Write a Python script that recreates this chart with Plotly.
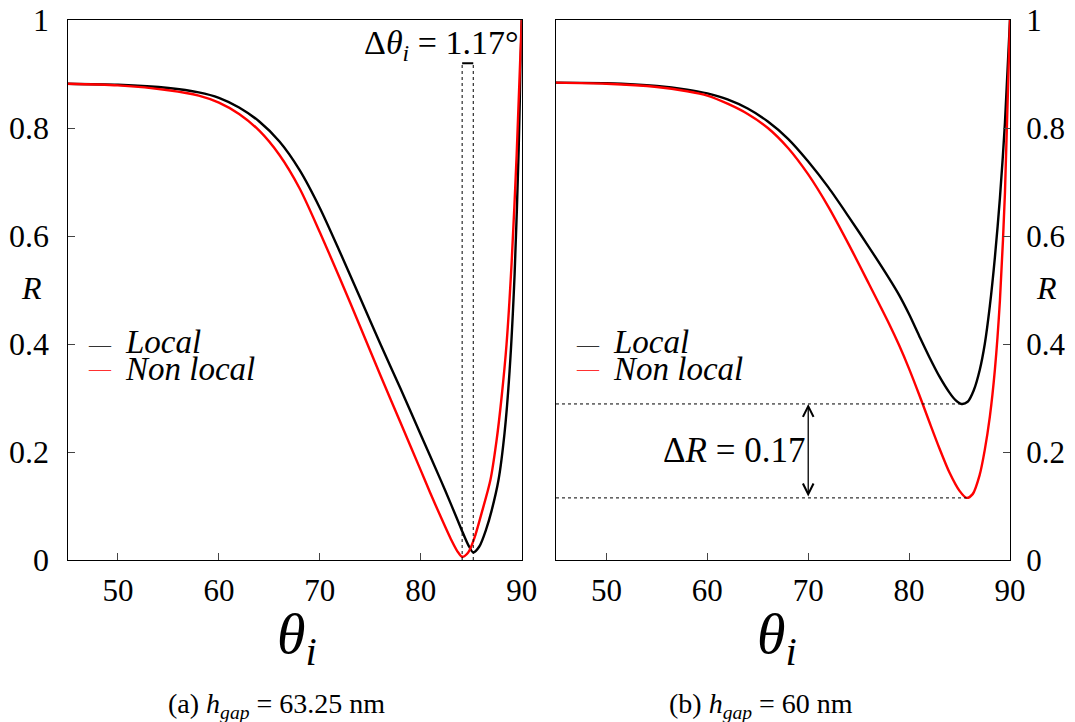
import plotly.graph_objects as go

# ---------------- data ----------------
theta_a_local = [45, 50, 55, 58, 60, 62, 64, 66, 68, 70, 72, 74, 76, 78, 80, 82, 83, 84, 84.7, 85.2, 85.8, 86.5, 87, 87.7, 88.3, 88.8, 89.3, 89.7, 90]
R_a_local     = [0.882, 0.880, 0.874, 0.866, 0.856, 0.838, 0.812, 0.775, 0.722, 0.652, 0.570, 0.485, 0.400, 0.317, 0.232, 0.147, 0.103, 0.058, 0.028, 0.014, 0.025, 0.058, 0.090, 0.148, 0.235, 0.35, 0.53, 0.76, 1.0]

theta_a_nonlocal = [45, 50, 55, 58, 60, 62, 64, 66, 68, 70, 72, 74, 76, 78, 80, 80.9, 82, 83, 83.6, 84.1, 84.7, 85.3, 86, 86.9, 87.5, 88, 88.5, 89, 89.5, 90]
R_a_nonlocal     = [0.882, 0.879, 0.870, 0.860, 0.847, 0.826, 0.795, 0.750, 0.688, 0.607, 0.521, 0.432, 0.342, 0.254, 0.166, 0.126, 0.079, 0.038, 0.017, 0.006, 0.014, 0.040, 0.085, 0.148, 0.22, 0.30, 0.40, 0.55, 0.75, 1.0]

theta_b_local = [45, 50, 55, 58, 60, 62, 64, 66, 68, 70, 72, 74, 76, 78, 79, 80, 81, 82, 83, 84, 84.6, 85.2, 85.8, 86.4, 87, 87.5, 88, 88.5, 89, 89.5, 90]
R_b_local     = [0.884, 0.883, 0.878, 0.871, 0.864, 0.853, 0.836, 0.812, 0.780, 0.738, 0.690, 0.636, 0.580, 0.522, 0.491, 0.455, 0.415, 0.376, 0.340, 0.310, 0.296, 0.289, 0.293, 0.314, 0.352, 0.40, 0.47, 0.56, 0.67, 0.81, 1.0]

theta_b_nonlocal = [45, 50, 55, 58, 60, 62, 64, 66, 68, 70, 72, 74, 76, 78, 79, 80, 81, 82, 83, 84, 85, 85.7, 86.3, 87, 87.5, 88, 88.5, 89, 89.5, 90]
R_b_nonlocal     = [0.884, 0.882, 0.876, 0.868, 0.860, 0.845, 0.826, 0.800, 0.763, 0.714, 0.654, 0.585, 0.512, 0.438, 0.398, 0.354, 0.306, 0.256, 0.207, 0.162, 0.128, 0.115, 0.122, 0.158, 0.204, 0.265, 0.352, 0.48, 0.68, 1.0]

x_ticks = [50, 60, 70, 80, 90]
y_ticks = [0, 0.2, 0.4, 0.6, 0.8, 1]
y_tick_labels = ["0", "0.2", "0.4", "0.6", "0.8", "1"]

delta_theta_text = "Δ<i>θ<sub>i</sub></i> = 1.17°"
delta_R_text = "Δ<i>R</i> = 0.17"
delta_R_theta = 70
caption_a = "(a) <i>h<sub>gap</sub></i> = 63.25 nm"
caption_b = "(b) <i>h<sub>gap</sub></i> = 60 nm"

# ---------------- figure ----------------
SERIF = "Liberation Serif, DejaVu Serif, Times New Roman, serif"
OFF = 8                      # page body margin
W, H = 1075 - OFF, 722 - OFF

def px(x):  # page x -> paper
    return (x - OFF) / W

def py(y):  # page y -> paper
    return 1 - (y - OFF) / H

xa = [px(67.5), px(521.7)]
xb = [px(556), px(1010)]
yd = [py(560), py(20)]

fig = go.Figure()

def curve(x, y, color, xaxis, yaxis, name):
    fig.add_trace(go.Scatter(x=x, y=y, mode="lines", name=name,
                             line=dict(color=color, width=2.4, shape="spline", smoothing=0.8),
                             xaxis=xaxis, yaxis=yaxis, showlegend=False, hoverinfo="skip"))

curve(theta_a_local, R_a_local, "black", "x", "y", "Local")
curve(theta_a_nonlocal, R_a_nonlocal, "red", "x", "y", "Non local")
curve(theta_b_local, R_b_local, "black", "x2", "y2", "Local")
curve(theta_b_nonlocal, R_b_nonlocal, "red", "x2", "y2", "Non local")

axis_common = dict(range=[45, 90], tickvals=x_ticks, ticks="inside", ticklen=7, tickwidth=1,
                   showline=True, linecolor="black", linewidth=1.3, mirror=True, showgrid=False,
                   zeroline=False, tickfont=dict(family=SERIF, size=31, color="black"),
                   ticklabelstandoff=3, automargin=False, ticklabeloverflow="allow")
yaxis_common = dict(range=[0, 1], tickvals=y_ticks, ticktext=y_tick_labels, ticks="inside", ticklen=7,
                    tickwidth=1, showline=True, linecolor="black", linewidth=1.3, mirror=True,
                    showgrid=False, zeroline=False, automargin=False, ticklabeloverflow="allow")

fig.update_layout(
    width=W, height=H, margin=dict(l=0, r=0, t=0, b=0, pad=0, autoexpand=False),
    paper_bgcolor="white", plot_bgcolor="white", showlegend=False,
    xaxis=dict(domain=xa, anchor="y", **axis_common),
    yaxis=dict(domain=yd, anchor="x", side="left", ticklabelstandoff=11,
               tickfont=dict(family=SERIF, size=32, color="black"), **yaxis_common),
    xaxis2=dict(domain=xb, anchor="y2", **axis_common),
    yaxis2=dict(domain=yd, anchor="x2", side="right", ticklabelstandoff=9,
                tickfont=dict(family=SERIF, size=31, color="black"), **yaxis_common),
)

def argmin(xs, ys):
    i = min(range(len(ys)), key=lambda k: ys[k])
    return xs[i], ys[i]

# Δθ marker: dotted verticals at the two minima of panel (a)
th_nl, _ = argmin(theta_a_nonlocal, R_a_nonlocal)
th_l, _ = argmin(theta_a_local, R_a_local)
top = 0.92
for th in (th_nl, th_l):
    fig.add_shape(type="line", xref="x", yref="y", x0=th, x1=th, y0=0, y1=top,
                  line=dict(color="black", width=1, dash="dot"))
fig.add_shape(type="line", xref="x", yref="y", x0=th_nl, x1=th_l, y0=top, y1=top,
              line=dict(color="black", width=2))

# ΔR marker: dotted horizontals at the two minima of panel (b)
thb_l, Rb_l = argmin(theta_b_local, R_b_local)
thb_nl, Rb_nl = argmin(theta_b_nonlocal, R_b_nonlocal)
fig.add_shape(type="line", xref="x2", yref="y2", x0=45, x1=thb_l, y0=Rb_l, y1=Rb_l,
              line=dict(color="black", width=1, dash="dot"))
fig.add_shape(type="line", xref="x2", yref="y2", x0=45, x1=thb_nl, y0=Rb_nl, y1=Rb_nl,
              line=dict(color="black", width=1, dash="dot"))

ann = []
ann.append(dict(x=delta_R_theta, y=Rb_l, xref="x2", yref="y2", ax=delta_R_theta, ay=Rb_nl,
                axref="x2", ayref="y2", showarrow=True, arrowhead=5, startarrowhead=5,
                arrowside="end+start", arrowwidth=1.3, arrowsize=1.6, startarrowsize=1.6,
                arrowcolor="black", text=""))
ann.append(dict(x=delta_R_theta, y=(Rb_l + Rb_nl) / 2, xref="x2", yref="y2", xanchor="right",
                yanchor="middle", xshift=-1, showarrow=False, text=delta_R_text,
                font=dict(family=SERIF, size=35, color="black")))
ann.append(dict(x=(th_nl + th_l) / 2 - 2.6, y=top, xref="x", yref="y", xanchor="center",
                yanchor="bottom", yshift=-5, showarrow=False, text=delta_theta_text,
                font=dict(family=SERIF, size=34, color="black")))

# legends (text + short line samples)
for xr in ("x domain", "x2 domain"):
    ann.append(dict(x=0.040, y=0.4, xref=xr, yref="y", xanchor="left", yanchor="middle",
                    showarrow=False, text="—", font=dict(family=SERIF, size=22, color="#333")))
    ann.append(dict(x=0.040, y=0.354, xref=xr, yref="y", xanchor="left", yanchor="middle",
                    showarrow=False, text="—", font=dict(family=SERIF, size=22, color="#ff3030")))
    ann.append(dict(x=0.122, y=0.403, xref=xr, yref="y", xanchor="left", yanchor="middle",
                    showarrow=False, text="<i>Local</i>", font=dict(family=SERIF, size=33, color="black")))
    ann.append(dict(x=0.122, y=0.354, xref=xr, yref="y", xanchor="left", yanchor="middle",
                    showarrow=False, text="<i>Non local</i>", font=dict(family=SERIF, size=33, color="black")))

# axis titles
for xc in (297, 777):
    ann.append(dict(x=px(xc), y=py(676), xref="paper", yref="paper", showarrow=False,
                    xanchor="center", yanchor="bottom",
                    text="<i>θ<sub>i</sub></i>", font=dict(family=SERIF, size=58, color="black")))
ann.append(dict(x=px(31), y=py(288), xref="paper", yref="paper", showarrow=False,
                xanchor="center", yanchor="middle",
                text="<i>R</i>", font=dict(family=SERIF, size=32, color="black")))
ann.append(dict(x=px(1046), y=py(288), xref="paper", yref="paper", showarrow=False,
                xanchor="center", yanchor="middle",
                text="<i>R</i>", font=dict(family=SERIF, size=32, color="black")))
# captions
ann.append(dict(x=px(276), y=py(725), xref="paper", yref="paper", showarrow=False,
                xanchor="center", yanchor="bottom",
                text=caption_a, font=dict(family=SERIF, size=28, color="black")))
ann.append(dict(x=px(761), y=py(725), xref="paper", yref="paper", showarrow=False,
                xanchor="center", yanchor="bottom",
                text=caption_b, font=dict(family=SERIF, size=28, color="black")))

fig.update_layout(annotations=ann)
fig.write_html("out.html")
